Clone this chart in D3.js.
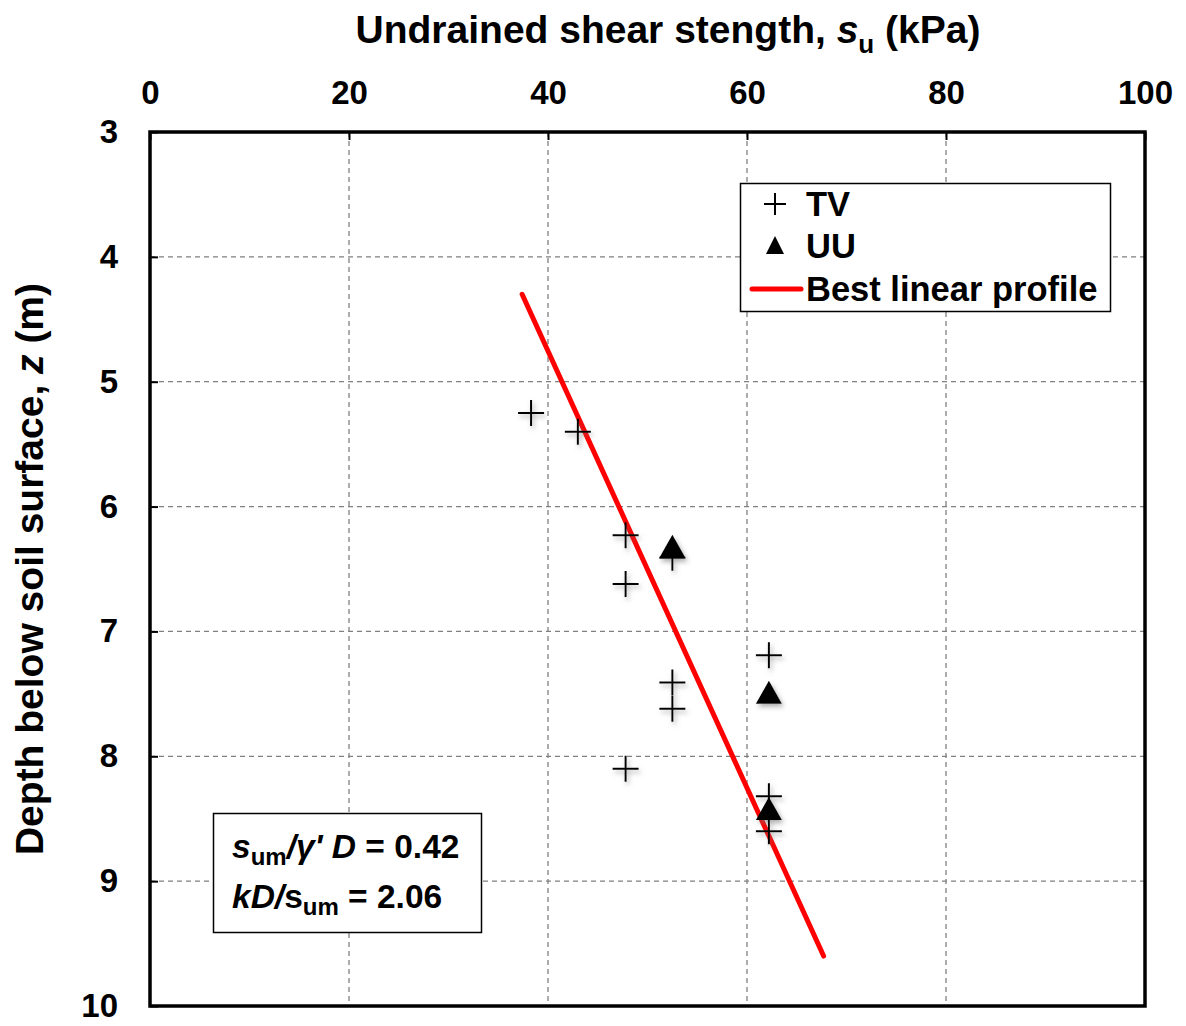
<!DOCTYPE html>
<html><head><meta charset="utf-8">
<script src="https://cdn.jsdelivr.net/npm/d3@7"></script>
<style>body{margin:0;background:#fff}svg{display:block}text{font-family:"Liberation Sans",Arial,sans-serif;font-weight:bold;fill:#000}</style>
</head><body><svg id="c" width="1186" height="1026"></svg>
<script>
const xTicks = [0, 20, 40, 60, 80, 100];
const yTicks = [3, 4, 5, 6, 7, 8, 9, 10];
const tvSu =    [38.3, 43.0, 47.8, 47.8, 52.5, 52.5, 52.5, 47.8, 62.2, 62.2, 62.2];
const tvDepth = [5.25, 5.40, 6.23, 6.62, 6.41, 7.41, 7.62, 8.10, 7.19, 8.32, 8.60];
const uuSu =    [52.5, 62.2, 62.2];
const uuDepth = [6.33, 7.50, 8.43];
const fitSu =    [37.4, 67.7];
const fitDepth = [4.30, 9.60];

const svg = d3.select("#c");
const L = 150, R = 1145, T = 132, B = 1006;
const x = d3.scaleLinear().domain([0, 100]).range([L, R]);
const y = d3.scaleLinear().domain([3, 10]).range([T, B]);

const defs = svg.append("defs");
const f = defs.append("filter").attr("id","sh").attr("x","-50%").attr("y","-50%").attr("width","200%").attr("height","200%");
f.append("feDropShadow").attr("dx",2).attr("dy",3).attr("stdDeviation",2.5).attr("flood-color","#777").attr("flood-opacity",0.6);

// grid
const g = svg.append("g");
g.selectAll(".gx").data(xTicks.slice(1,-1)).enter().append("line")
  .attr("x1", d=>x(d)).attr("x2", d=>x(d)).attr("y1", T).attr("y2", B)
  .attr("stroke","#808080").attr("stroke-width",1.3).attr("stroke-dasharray","5,4");
g.selectAll(".gy").data(yTicks.slice(1,-1)).enter().append("line")
  .attr("y1", d=>y(d)).attr("y2", d=>y(d)).attr("x1", L).attr("x2", R)
  .attr("stroke","#808080").attr("stroke-width",1.3).attr("stroke-dasharray","5,4");

// axes (inward ticks)
const ax = svg.append("g").attr("transform",`translate(0,${T})`)
  .call(d3.axisTop(x).tickValues(xTicks).tickFormat(d3.format("d")).tickSize(-8).tickPadding(24).tickSizeOuter(0));
ax.select(".domain").remove();
ax.selectAll(".tick line").attr("stroke","#000").attr("stroke-width",2);
ax.selectAll("text").style("font-size","33px").style("font-family","Liberation Sans, Arial, sans-serif").style("font-weight","bold").attr("fill","#000");
ax.selectAll("text").attr("dy", "-0.12em");

const ay = svg.append("g").attr("transform",`translate(${L},0)`)
  .call(d3.axisLeft(y).tickValues(yTicks).tickFormat(d3.format("d")).tickSize(-8).tickPadding(32).tickSizeOuter(0));
ay.select(".domain").remove();
ay.selectAll(".tick line").attr("stroke","#000").attr("stroke-width",2);
ay.selectAll("text").style("font-size","33px").style("font-family","Liberation Sans, Arial, sans-serif").style("font-weight","bold").attr("fill","#000");

// frame
svg.append("rect").attr("x",L).attr("y",T).attr("width",R-L).attr("height",B-T)
  .attr("fill","none").attr("stroke","#000").attr("stroke-width",3.5);

// fit line
const line = d3.line().x(d=>x(d[0])).y(d=>y(d[1]));
svg.append("path").datum(fitSu.map((s,i)=>[s, fitDepth[i]])).attr("d", line)
  .attr("fill","none").attr("stroke","#ff0000").attr("stroke-width",5).attr("stroke-linecap","round");

// markers
const mk = svg.append("g").attr("filter","url(#sh)");
tvSu.forEach((s,i)=>{
  const cx = x(s), cy = y(tvDepth[i]);
  mk.append("path").attr("d",`M${cx-13},${cy}H${cx+13}M${cx},${cy-13}V${cy+13}`)
    .attr("stroke","#000").attr("stroke-width",2).attr("fill","none");
});
uuSu.forEach((s,i)=>{
  const cx = x(s), cy = y(uuDepth[i]);
  mk.append("path").attr("d",`M${cx},${cy-13}L${cx+13},${cy+10}L${cx-13},${cy+10}Z`).attr("fill","#000");
});

// title
const tt = svg.append("text").attr("x", 668).attr("y", 43).attr("text-anchor","middle").style("font-size","39px");
tt.append("tspan").text("Undrained shear stength, ");
tt.append("tspan").attr("font-style","italic").text("s");
tt.append("tspan").attr("font-size","26px").attr("dy",10).text("u");
tt.append("tspan").attr("dy",-10).text(" (kPa)");

// y label
const yl = svg.append("text").attr("transform","translate(43,569) rotate(-90)").attr("text-anchor","middle").style("font-size","39px");
yl.append("tspan").text("Depth below soil surface, ");
yl.append("tspan").attr("font-style","italic").text("z");
yl.append("tspan").text(" (m)");

// legend
svg.append("rect").attr("x",740.5).attr("y",183.5).attr("width",370).attr("height",128)
  .attr("fill","#fff").attr("stroke","#000").attr("stroke-width",1.5);
const lx = 775;
svg.append("path").attr("d",`M${lx-11},204H${lx+11}M${lx},193V215`).attr("stroke","#000").attr("stroke-width",2);
svg.append("path").attr("d",`M${lx},236L${lx+9},254L${lx-9},254Z`).attr("fill","#000");
svg.append("line").attr("x1",752).attr("x2",801).attr("y1",289).attr("y2",289).attr("stroke","#ff0000").attr("stroke-width",5).attr("stroke-linecap","round");
const legT = ["TV","UU","Best linear profile"];
const legY = [216, 258, 301];
legT.forEach((t,i)=>svg.append("text").attr("x",806).attr("y",legY[i]).style("font-size","34.5px").text(t));

// annotation box
svg.append("rect").attr("x",213.5).attr("y",813.5).attr("width",268).attr("height",119)
  .attr("fill","#fff").attr("stroke","#000").attr("stroke-width",1.5);
const a1 = svg.append("text").attr("x",232).attr("y",858).style("font-size","33.5px");
a1.append("tspan").attr("font-style","italic").text("s");
a1.append("tspan").attr("font-size","24px").attr("dy",7).text("um");
a1.append("tspan").attr("dy",-7).attr("font-style","italic").text("/γ' D");
a1.append("tspan").text(" = 0.42");
const a2 = svg.append("text").attr("x",232).attr("y",908).style("font-size","33.5px");
a2.append("tspan").attr("font-style","italic").text("kD");
a2.append("tspan").attr("font-style","italic").text("/");
a2.append("tspan").text("s");
a2.append("tspan").attr("font-size","24px").attr("dy",7).text("um");
a2.append("tspan").attr("dy",-7).text(" = 2.06");
</script></body></html>
